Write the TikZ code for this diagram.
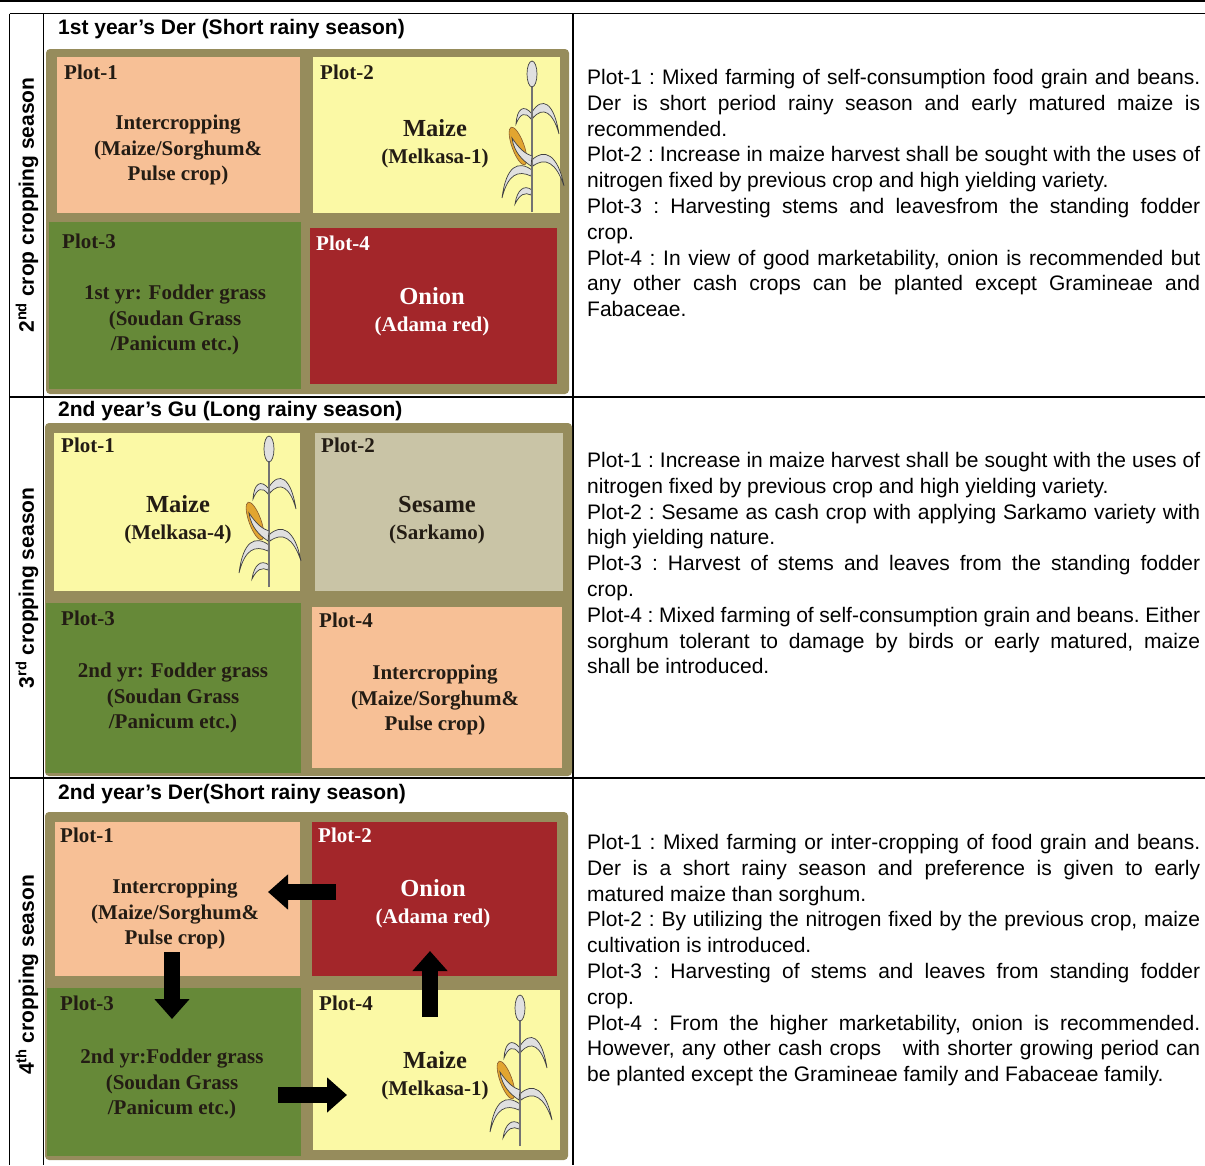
\documentclass[tikz,border=0pt]{standalone}
\usepackage{fontspec}
\setmainfont{Liberation Sans}
\newfontfamily\plotfont{Liberation Serif}
\usetikzlibrary{arrows.meta}

\definecolor{salmon}{RGB}{247,192,150}
\definecolor{cornyellow}{RGB}{251,249,165}
\definecolor{grassgreen}{RGB}{102,137,56}
\definecolor{onionred}{RGB}{163,38,42}
\definecolor{sesamegray}{RGB}{201,196,166}
\definecolor{fieldolive}{RGB}{150,140,92}
\definecolor{plotink}{RGB}{35,28,20}
\definecolor{cobyellow}{RGB}{226,165,48}

\tolerance=10000

\tikzset{
  rule/.style={line width=1.3pt},
  field/.style={fill=fieldolive, rounded corners=4pt},
  plotbox/.style={rectangle, draw=none},
  plotname/.style={anchor=west, text=plotink,
    font=\fontsize{21}{24}\selectfont\plotfont\bfseries},
  crop/.style={align=center, text=plotink,
    font=\fontsize{21}{25.5}\selectfont\plotfont\bfseries},
  bigcrop/.style={align=center, text=plotink,
    font=\fontsize{21}{27}\selectfont\plotfont\bfseries},
  season/.style={rotate=90, font=\fontsize{21}{24}\selectfont\bfseries},
  heading/.style={anchor=base west, font=\fontsize{21}{24}\selectfont\bfseries},
  note/.style={anchor=base west, text width=613pt, align=justify,
    font=\fontsize{21}{25.8}\selectfont\frenchspacing},
  flow/.style={line width=16pt, -{Triangle[length=20pt,width=34pt]}},
  leaf/.style={fill=black!12, draw=black!75, line width=.7pt},
  stalk/.style={draw=black!55, line width=2pt},
  maize/.pic={
    \filldraw[leaf] (0,-100) .. controls (10,-116) and (22,-110) .. (27,-78)
      .. controls (21,-100) and (11,-106) .. (1,-94) -- cycle;
    \filldraw[leaf] (0,-98) .. controls (-8,-108) and (-15,-104) .. (-16,-88)
      .. controls (-12,-98) and (-7,-101) .. (-1,-93) -- cycle;
    \filldraw[leaf] (0,-52) .. controls (12,-64) and (26,-58) .. (32,-26)
      .. controls (24,-50) and (13,-55) .. (1,-46) -- cycle;
    \filldraw[leaf] (0,-42) .. controls (-14,-52) and (-26,-46) .. (-30,-14)
      .. controls (-24,-38) and (-14,-42) .. (-1,-36) -- cycle;
    \filldraw[leaf] (0,-22) .. controls (-8,-28) and (-15,-22) .. (-17,-8)
      .. controls (-12,-18) and (-7,-20) .. (-1,-17) -- cycle;
    \draw[stalk] (0,0) -- (0,-126);
    \filldraw[fill=cobyellow, draw=brown!70!black, line width=.6pt,
      rotate around={20:(-14,-66)}] (-14,-66) ellipse (6 and 20);
    \filldraw[leaf] (-1,-46) .. controls (-10,-52) and (-18,-60) .. (-20,-74)
      .. controls (-12,-62) and (-6,-58) .. (0,-56) -- cycle;
    \filldraw[leaf] (0,-138) ellipse (5 and 13);
  }
}

\begin{document}
\begin{tikzpicture}
  [x=1pt,y=-1pt,every node/.style={inner sep=0pt}]

  \useasboundingbox (0,0) rectangle (1205,1165);

  % table rules
  \draw[rule] (0,1) -- (1205,1);
  \foreach \y in {13.5,397,778}
    \draw[rule] (9.5,\y) -- (1205,\y);
  \foreach \x in {9.5,43.5,573}
    \draw[rule] (\x,13.5) -- (\x,1165);

  % season names
  \node[season] (s2) at (27,205) {2\textsuperscript{nd} crop cropping season};
  \node[season] (s3) at (27,588) {3\textsuperscript{rd} cropping season};
  \node[season] (s4) at (27,975) {4\textsuperscript{th} cropping season};

  % first block
  \node[heading] (h1) at (58,34) {1st year’s Der (Short rainy season)};
  \fill[field] (46,49) rectangle (569,394);
  \node[plotbox, fill=salmon, minimum width=243pt, minimum height=156pt] (a1) at (178.5,135) {};
  \node[plotbox, fill=cornyellow, minimum width=247pt, minimum height=156pt] (a2) at (436.5,135) {};
  \node[plotbox, fill=grassgreen, minimum width=252pt, minimum height=167pt] (a3) at (175,305.5) {};
  \node[plotbox, fill=onionred, minimum width=247pt, minimum height=156pt] (a4) at (433.5,306) {};
  \pic at (532,212) {maize};

  \node[plotname] (a1n) at (64,72) {Plot-1};
  \node[plotname] (a2n) at (320,72) {Plot-2};
  \node[plotname] (a3n) at (62,241) {Plot-3};
  \node[plotname, text=white] (a4n) at (316,243) {Plot-4};
  \node[crop] (a1t) at (178,150) {Intercropping\\(Maize/Sorghum\&\\Pulse crop)};
  \node[bigcrop] (a2t) at (435,144) {{\fontsize{24.5}{27}\selectfont Maize}\\(Melkasa-1)};
  \node[crop] (a3t) at (175,320) {1st yr: Fodder grass\\(Soudan Grass\\/Panicum etc.)};
  \node[bigcrop, text=white] (a4t) at (432,312) {{\fontsize{24.5}{27}\selectfont Onion}\\(Adama red)};

  \node[note] (n1) at (587,84.5) {Plot-1 : Mixed farming of self-consumption food grain and beans.\linebreak
    Der is short period rainy season and early matured maize is\linebreak
    recommended.\par
    Plot-2 : Increase in maize harvest shall be sought with the uses of\linebreak
    nitrogen fixed by previous crop and high yielding variety.\par
    Plot-3 : Harvesting stems and leavesfrom the standing fodder\linebreak
    crop.\par
    Plot-4 : In view of good marketability, onion is recommended but\linebreak
    any other cash crops can be planted except Gramineae and\linebreak
    Fabaceae.};

  % second block
  \node[heading] (h2) at (58,416) {2nd year’s Gu (Long rainy season)};
  \fill[field] (45,423) rectangle (572,776);
  \node[plotbox, fill=cornyellow, minimum width=246pt, minimum height=158pt] (b1) at (177,512) {};
  \node[plotbox, fill=sesamegray, minimum width=248pt, minimum height=158pt] (b2) at (439,512) {};
  \node[plotbox, fill=grassgreen, minimum width=255pt, minimum height=170pt] (b3) at (173.5,688) {};
  \node[plotbox, fill=salmon, minimum width=250pt, minimum height=161pt] (b4) at (437,687.5) {};
  \pic at (269,587) {maize};

  \node[plotname] (b1n) at (61,445) {Plot-1};
  \node[plotname] (b2n) at (321,445) {Plot-2};
  \node[plotname] (b3n) at (61,618) {Plot-3};
  \node[plotname] (b4n) at (319,620) {Plot-4};
  \node[bigcrop] (b1t) at (178,520) {{\fontsize{24.5}{27}\selectfont Maize}\\(Melkasa-4)};
  \node[bigcrop] (b2t) at (437,520) {{\fontsize{24.5}{27}\selectfont Sesame}\\(Sarkamo)};
  \node[crop] (b3t) at (173,698) {2nd yr: Fodder grass\\(Soudan Grass\\/Panicum etc.)};
  \node[crop] (b4t) at (435,700) {Intercropping\\(Maize/Sorghum\&\\Pulse crop)};

  \node[note] (n2) at (587,467.5) {Plot-1 : Increase in maize harvest shall be sought with the uses of\linebreak
    nitrogen fixed by previous crop and high yielding variety.\par
    Plot-2 : Sesame as cash crop with applying Sarkamo variety with\linebreak
    high yielding nature.\par
    Plot-3 : Harvest of stems and leaves from the standing fodder\linebreak
    crop.\par
    Plot-4 : Mixed farming of self-consumption grain and beans. Either\linebreak
    sorghum tolerant to damage by birds or early matured, maize\linebreak
    shall be introduced.};

  % third block
  \node[heading] (h3) at (58,799) {2nd year’s Der(Short rainy season)};
  \fill[field] (45,812) rectangle (568,1160);
  \node[plotbox, fill=salmon, minimum width=245pt, minimum height=154pt] (c1) at (177.5,899) {};
  \node[plotbox, fill=onionred, minimum width=245pt, minimum height=154pt] (c2) at (434.5,899) {};
  \node[plotbox, fill=grassgreen, minimum width=254pt, minimum height=168pt] (c3) at (174,1072) {};
  \node[plotbox, fill=cornyellow, minimum width=247pt, minimum height=160pt] (c4) at (436.5,1070) {};
  \pic at (520,1146) {maize};

  \node[plotname] (c1n) at (60,835) {Plot-1};
  \node[plotname, text=white] (c2n) at (318,835) {Plot-2};
  \node[plotname] (c3n) at (60,1003) {Plot-3};
  \node[plotname] (c4n) at (319,1003) {Plot-4};
  \node[crop] (c1t) at (175,914) {Intercropping\\(Maize/Sorghum\&\\Pulse crop)};
  \node[bigcrop, text=white] (c2t) at (433,904) {{\fontsize{24.5}{27}\selectfont Onion}\\(Adama red)};
  \node[crop] (c3t) at (172,1084) {2nd yr:Fodder grass\\(Soudan Grass\\/Panicum etc.)};
  \node[bigcrop] (c4t) at (435,1076) {{\fontsize{24.5}{27}\selectfont Maize}\\(Melkasa-1)};

  % rotation arrows
  \coordinate (f1) at (336,892);
  \coordinate (f2) at (268,892);
  \coordinate (f3) at (172,952);
  \coordinate (f4) at (172,1019);
  \coordinate (f5) at (278,1095);
  \coordinate (f6) at (347,1095);
  \coordinate (f7) at (430,1017);
  \coordinate (f8) at (430,951);
  \foreach \from/\to in {f1/f2,f3/f4,f5/f6,f7/f8}
    \draw[flow] (\from) -- (\to);

  \node[note] (n3) at (587,849.5) {Plot-1 : Mixed farming or inter-cropping of food grain and beans.\linebreak
    Der is a short rainy season and preference is given to early\linebreak
    matured maize than sorghum.\par
    Plot-2 : By utilizing the nitrogen fixed by the previous crop, maize\linebreak
    cultivation is introduced.\par
    Plot-3 : Harvesting of stems and leaves from standing fodder\linebreak
    crop.\par
    Plot-4 : From the higher marketability, onion is recommended.\linebreak
    However, any other cash crops \ \ with shorter growing period can\linebreak
    be planted except the Gramineae family and Fabaceae family.};
\end{tikzpicture}
\end{document}
